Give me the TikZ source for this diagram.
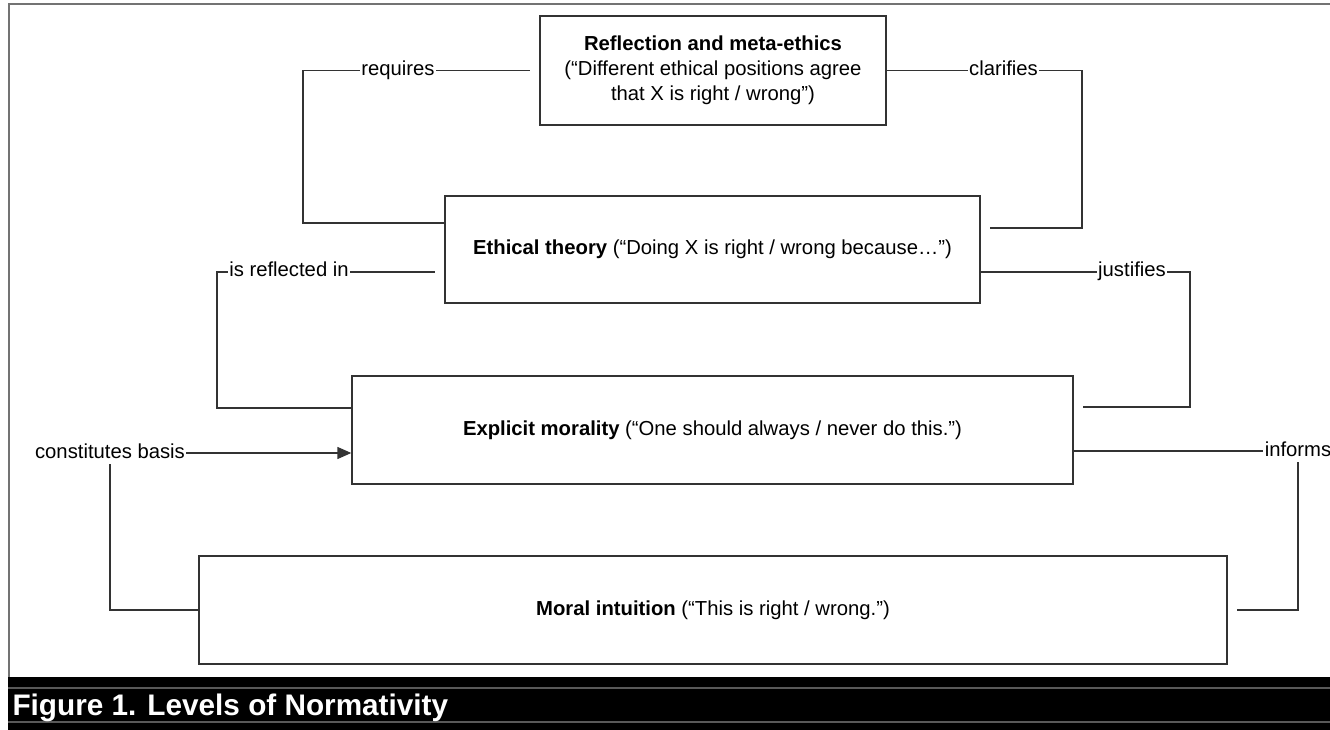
\documentclass[tikz,border=0pt]{standalone}
\usepackage{fontspec}
\setmainfont{Liberation Sans}
\usetikzlibrary{arrows.meta}

\tikzset{every picture/.style={line width=0.75pt}}
\tikzset{
	level/.style={draw=black!80, line width=1pt, fill=white, align=center, inner sep=0pt, font=\fontsize{15.2}{18.8}\selectfont},
	rel/.style={inner sep=0.8pt, text height=11pt, text depth=3.5pt, font=\fontsize{15.2}{18}\selectfont},
	link/.style={draw=black!80, line width=1pt},
	openend/.style={shorten >=7pt},
}

\begin{document}
\begin{tikzpicture}[x=0.75pt,y=0.75pt,yscale=-1,xscale=1]
	%set diagram to the size of the figure, 1330 by 730
	\useasboundingbox (0,0) rectangle (1330,730);

	%Frame
	\draw [black!55, line width=1.5pt]  (9,677) -- (9,4) -- (1340,4) ;
	%Caption bar
	\fill [black]  (8,677) rectangle (1340,740) ;
	\draw [black!65, line width=1pt]  (8,688) -- (1340,688) (8,722) -- (1340,722) ;
	% Text Node
	\draw (12,715) node [anchor=base west, text=white, inner sep=0pt, font=\bfseries\fontsize{22.3}{26}\selectfont] (capt) {Figure 1. Levels of Normativity};

	%Shape: Rectangle
	\draw (713,70.5) node [level, minimum width=259.5pt, minimum height=81.75pt] (refl) {\textbf{Reflection and meta-ethics}\\(“Different ethical positions agree\\that X is right / wrong”)};
	%Shape: Rectangle
	\draw (712.5,249.5) node [level, minimum width=401.25pt, minimum height=80.25pt] (theory) {\textbf{Ethical theory} (“Doing X is right / wrong because…”)};
	%Shape: Rectangle
	\draw (712.5,430) node [level, minimum width=540.75pt, minimum height=81pt] (explicit) {\textbf{Explicit morality} (“One should always / never do this.”)};
	%Shape: Rectangle
	\draw (713,610) node [level, minimum width=771pt, minimum height=81pt] (intuition) {\textbf{Moral intuition} (“This is right / wrong.”)};

	% Text Node
	\draw (398,70.5) node [rel] (req) {requires};
	% Text Node
	\draw (1003.5,70.5) node [rel] (clar) {clarifies};
	% Text Node
	\draw (289,272) node [rel] (isrefl) {is reflected in};
	% Text Node
	\draw (1132,272) node [rel] (just) {justifies};
	% Text Node
	\draw (110,453) node [rel] (basis) {constitutes basis};
	% Text Node
	\draw (1298,451) node [rel] (inf) {informs};

	%Bends
	\coordinate (reqbend) at (303,70.5);
	\coordinate (clarbend) at (1082,228);
	\coordinate (reflbend) at (217,272);
	\coordinate (justbend) at (1190,407);

	%Straight Lines
	\draw [link]  (theory.west |- 0,223) -| (reqbend) -- (req.west) ;
	\draw [link, openend]  (req.east) -- (refl.west) ;
	%Straight Lines
	\draw [link]  (refl.east) -- (clar.west) ;
	\draw [link, openend]  (clar.east) -| (clarbend) -- (theory.east |- clarbend) ;
	%Straight Lines
	\draw [link]  (explicit.west |- 0,408) -| (reflbend) -- (isrefl.west) ;
	\draw [link, openend]  (isrefl.east) -- (theory.west |- isrefl) ;
	%Straight Lines
	\draw [link]  (theory.east |- just) -- (just.west) ;
	\draw [link, openend]  (just.east) -| (justbend) -- (explicit.east |- justbend) ;
	%Straight Lines
	\draw [link]  (intuition.west) -| (basis.south) ;
	\draw [link, -{Triangle[length=10.5pt,width=9pt]}]  (basis.east) -- (explicit.west |- basis) ;
	%Straight Lines
	\draw [link]  (explicit.east |- inf) -- (inf.west) ;
	\draw [link, openend]  (inf.south) |- (intuition.east) ;

\end{tikzpicture}
\end{document}
